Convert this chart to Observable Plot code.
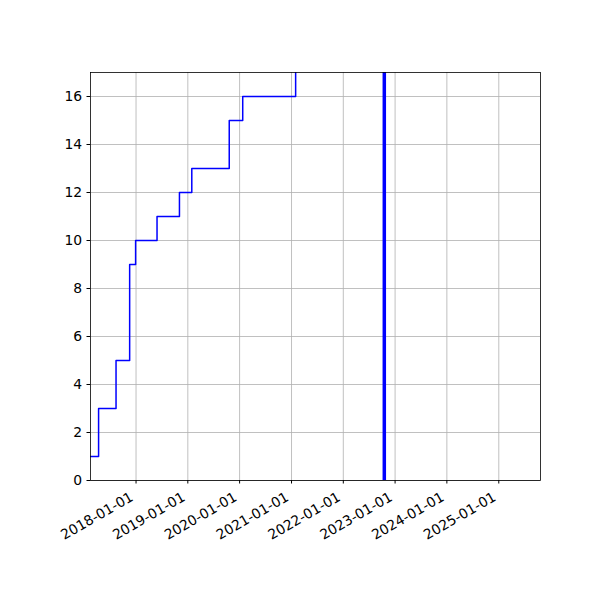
<!DOCTYPE html>
<html>
<head>
<meta charset="utf-8">
<script src="https://cdn.jsdelivr.net/npm/d3@7"></script>
<script src="https://cdn.jsdelivr.net/npm/@observablehq/plot@0.6"></script>
<style>
  html, body { margin: 0; padding: 0; background: #fff; }
  #chart { width: 600px; height: 600px; }
</style>
</head>
<body>
<div id="chart"></div>
<script>
// Step series (date, cumulative count)
const stepDates = ["2017-02-14", "2017-04-12", "2017-08-13", "2017-11-17", "2017-12-29", "2018-05-29",
                   "2018-11-03", "2019-01-29", "2019-10-20", "2020-01-23", "2021-01-30", "2021-06-01"];
const stepValues = [1, 3, 5, 9, 10, 11, 12, 13, 15, 16, 18, 18];
// Thick vertical marker
const markerDates = ["2022-10-17"];
// Axis ticks
const xTickDates = ["2018-01-01", "2019-01-01", "2020-01-01", "2021-01-01", "2022-01-01", "2023-01-01", "2024-01-01", "2025-01-01"];
const yTicks = [0, 2, 4, 6, 8, 10, 12, 14, 16];
const xDomain = ["2017-02-14", "2025-10-22"];
const yDomain = [0, 17];

const parse = d3.utcParse("%Y-%m-%d");
const data = stepDates.map((d, i) => ({date: parse(d), value: stepValues[i]}));
const markers = markerDates.map(parse);
const xt = xTickDates.map(parse);

const chart = Plot.plot({
  width: 600,
  height: 600,
  marginLeft: 90,
  marginRight: 60,
  marginTop: 72,
  marginBottom: 120,
  style: {fontFamily: "DejaVu Sans", fontSize: "13.9px", color: "black", background: "white"},
  x: {type: "utc", domain: xDomain.map(parse)},
  y: {domain: yDomain},
  marks: [
    Plot.gridX(xt, {stroke: "#b0b0b0", strokeOpacity: 1, strokeWidth: 0.8}),
    Plot.gridY(yTicks, {stroke: "#b0b0b0", strokeOpacity: 1, strokeWidth: 0.8}),
    Plot.line(data, {x: "date", y: "value", curve: "step-after", stroke: "blue", strokeWidth: 1.5, clip: true}),
    Plot.ruleX(markers, {stroke: "blue", strokeWidth: 3.5}),
    Plot.frame({stroke: "black", strokeWidth: 0.8}),
    Plot.axisX(xt, {tickSize: 3.5, tickFormat: () => "", label: null}),
    Plot.axisX(xt, {tickFormat: d3.utcFormat("%Y-%m-%d"), tickRotate: -30, tickSize: 0, tickPadding: 8.4, dx: -4, dy: 7, label: null, fontSize: 13.9}),
    Plot.axisY(yTicks, {tickSize: 3.5, tickPadding: 4.9, label: null, fontSize: 13.9})
  ]
});
document.getElementById("chart").appendChild(chart);
</script>
</body>
</html>
